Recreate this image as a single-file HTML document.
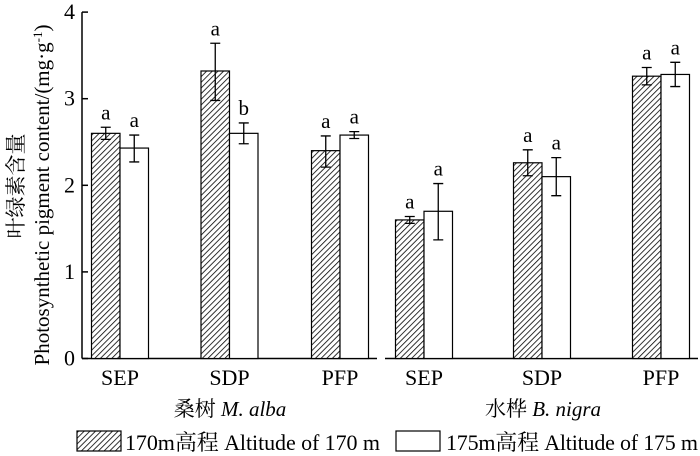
<!DOCTYPE html>
<html><head><meta charset="utf-8"><style>
body{margin:0;background:#fff;position:relative;width:700px;height:456px;overflow:hidden}
svg text{font-family:"Liberation Serif","Noto Serif CJK SC",serif;fill:#000}
#c{position:absolute;left:0;top:0}
</style></head><body>
<svg id="c" width="700" height="456">
<defs><pattern id="hatch" patternUnits="userSpaceOnUse" width="4" height="4" patternTransform="rotate(45)"><rect width="4" height="4" fill="#fff"/><line x1="0" y1="0" x2="0" y2="4" stroke="#000" stroke-width="1.6"/></pattern></defs>
</svg>
<script>
const categories=["SEP","SDP","PFP","SEP","SDP","PFP"];
const s170=[2.60,3.32,2.40,1.60,2.26,3.26];
const s170Hi=[2.67,3.64,2.57,1.64,2.41,3.36];
const s170Lo=[2.53,2.98,2.21,1.56,2.11,3.16];
const s175=[2.43,2.60,2.58,1.70,2.10,3.28];
const s175Hi=[2.58,2.72,2.62,2.02,2.32,3.42];
const s175Lo=[2.27,2.48,2.54,1.37,1.88,3.14];
const sig170=["a","a","a","a","a","a"];
const sig175=["a","b","a","a","a","a"];
const yTicks=[0,1,2,3,4];
const NS="http://www.w3.org/2000/svg";
const svg=document.getElementById('c');
function y(v){return 358.5-v*86.6;}
function xc(i){const left=[120,229.5,340,424,542,661];return left[i];}
function mk(t,a,p){const e=document.createElementNS(NS,t);for(const k in a)e.setAttribute(k,a[k]);(p||svg).appendChild(e);return e;}
let g;
g=mk('g',{});


mk('line',{x1:82,y1:y(4),x2:82,y2:y(0),stroke:'#000','stroke-width':1.5},g);
yTicks.forEach(v=>{mk('line',{x1:82,y1:y(v),x2:88,y2:y(v),stroke:'#000','stroke-width':1.5},g);
const t=mk('text',{x:75,y:y(v)+7,'text-anchor':'end','font-size':22},g);t.textContent=v;});
const b1=mk('line',{x1:82,y1:y(0),x2:377,y2:y(0),stroke:'#000','stroke-width':1.5});


const b2=mk('line',{x1:385,y1:y(0),x2:698,y2:y(0),stroke:'#000','stroke-width':1.5});


const bw=28.5;
function bar(xl,v,hi,lo,sig,fill,name){
 const r=mk('rect',{x:xl,y:y(v),width:bw,height:y(0)-y(v),fill:fill,stroke:'#000','stroke-width':1.2});
 
 
 const cx=xl+bw/2;
 const e=mk('path',{d:`M${cx-5},${y(hi)}H${cx+5}M${cx},${y(hi)}V${y(lo)}M${cx-5},${y(lo)}H${cx+5}`,stroke:'#000','stroke-width':1.3,fill:'none'});
 
 
 const t=mk('text',{x:cx,y:y(hi)-8,'text-anchor':'middle','font-size':21});t.textContent=sig;
 
 
}
categories.forEach((c,i)=>{
 const m=xc(i);
 bar(m-bw,s170[i],s170Hi[i],s170Lo[i],sig170[i],'url(#hatch)','bar-170-'+i);
 bar(m,s175[i],s175Hi[i],s175Lo[i],sig175[i],'#fff','bar-175-'+i);
 const t=mk('text',{x:m,y:385,'text-anchor':'middle','font-size':22});t.textContent=c;
 
 
});
</script>
<svg style="position:absolute;left:0;top:0" width="700" height="456">
<text x="230" y="416" text-anchor="middle" font-size="21">桑树 <tspan font-style="italic">M. alba</tspan></text>
<text x="543" y="416" text-anchor="middle" font-size="21">水桦 <tspan font-style="italic">B. nigra</tspan></text>
<text transform="translate(23,186) rotate(-90)" text-anchor="middle" font-size="21">叶绿素含量</text>
<text transform="translate(49,195) rotate(-90)" text-anchor="middle" font-size="21">Photosynthetic pigment content/(mg·g<tspan dy="-7" font-size="13">-1</tspan><tspan dy="7">)</tspan></text>
<g>
<rect x="77" y="431" width="44" height="20" fill="url(#hatch)" stroke="#000" stroke-width="1.2"/>
<text x="125" y="450" font-size="22" textLength="255">170m高程 Altitude of 170 m</text>
<rect x="396" y="431" width="44" height="20" fill="#fff" stroke="#000" stroke-width="1.2"/>
<text x="446" y="450" font-size="22" textLength="252">175m高程 Altitude of 175 m</text>
</g>
</svg>
</body></html>
